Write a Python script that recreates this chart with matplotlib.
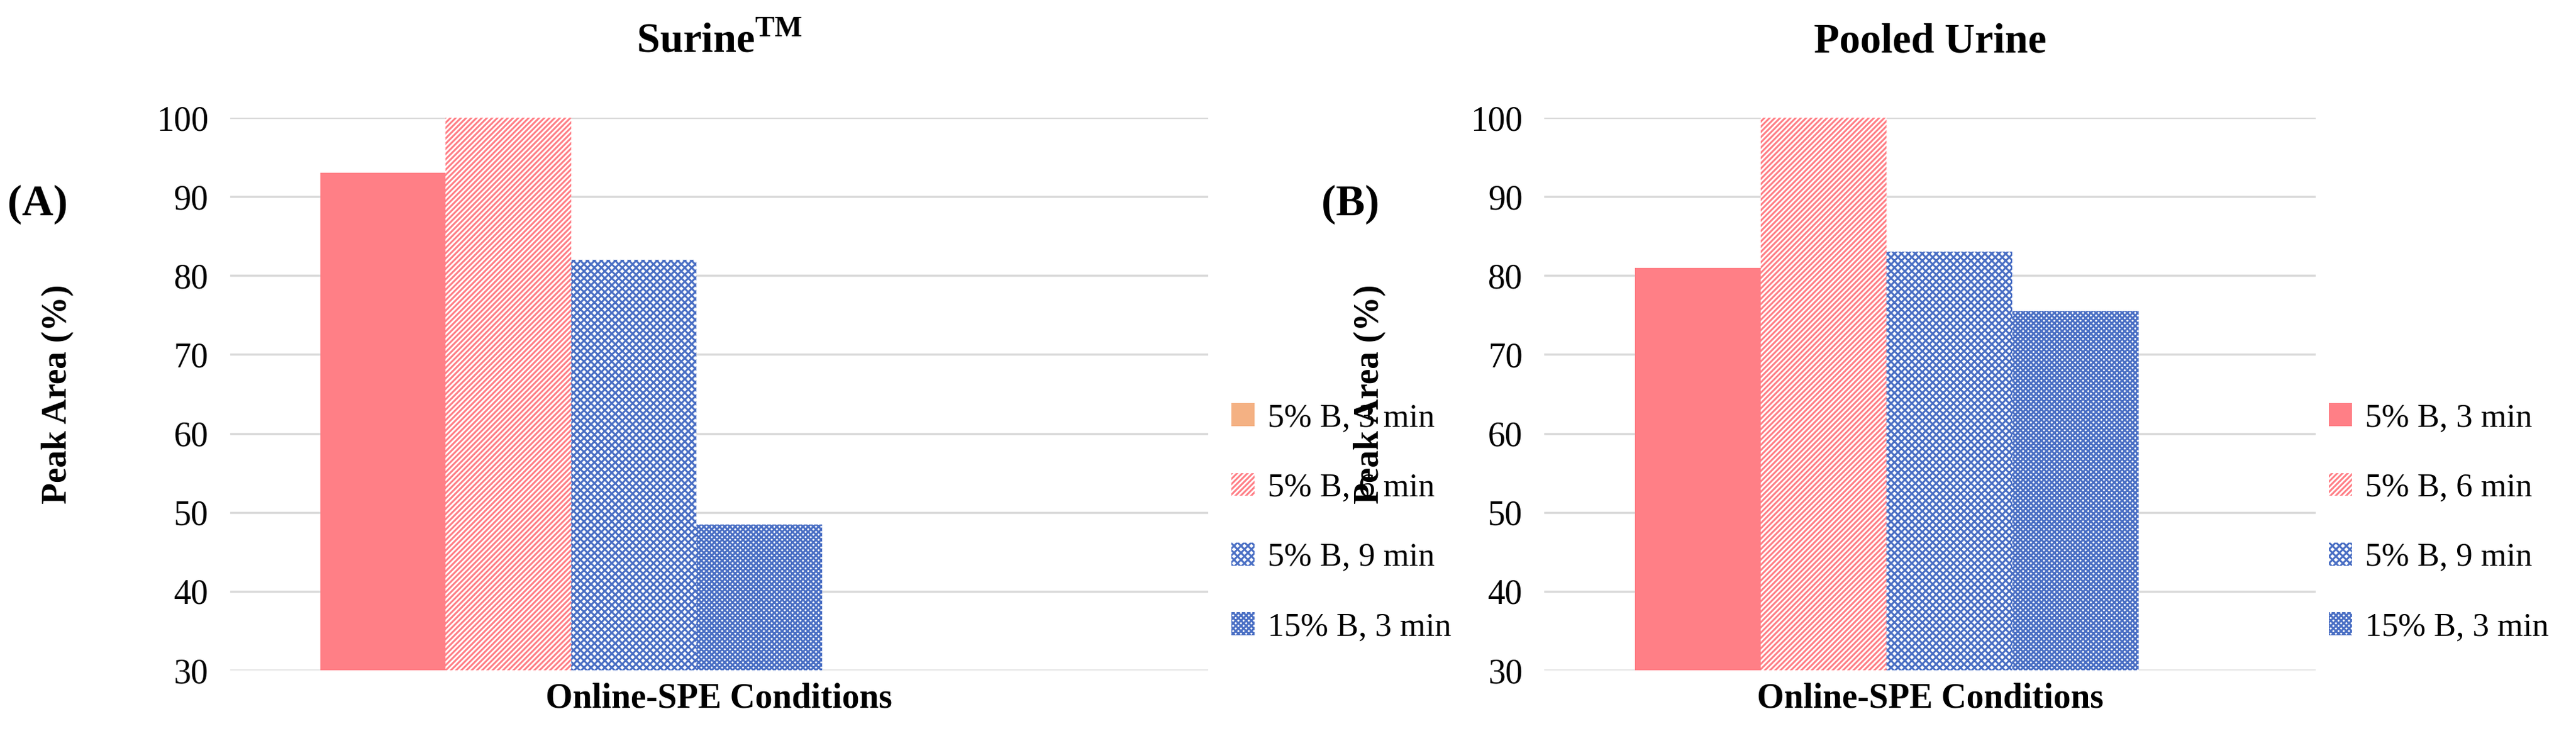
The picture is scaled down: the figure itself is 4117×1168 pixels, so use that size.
import matplotlib
matplotlib.use("Agg")
import matplotlib.pyplot as plt
from matplotlib.patches import Patch

series = ["5% B, 3 min", "5% B, 6 min", "5% B, 9 min", "15% B, 3 min"]
surine = [93, 100, 82, 48.5]
pooled = [81, 100, 83, 75.5]
category = "Online-SPE Conditions"

plt.rcParams['font.family'] = ['Liberation Serif', 'DejaVu Serif']
plt.rcParams['hatch.linewidth'] = 2.2

pink = "#FF7F86"
blue = "#4A6FC4"
styles = [
    dict(facecolor=pink, edgecolor=pink, hatch=None),
    dict(facecolor="white", edgecolor=pink, hatch="////"),
    dict(facecolor="white", edgecolor=blue, hatch="xxx"),
    dict(facecolor="white", edgecolor=blue, hatch="xxxx"),
]

fig = plt.figure(figsize=(41.17, 11.68), dpi=100)
axA = fig.add_axes([0.0893, 0.083, 0.3797, 0.756])
axB = fig.add_axes([0.5995, 0.083, 0.2995, 0.756])

def draw(ax, vals, title, letter, lx, legend_first_color, xr, ylx, legx):
    xs = [-1.5, -0.5, 0.5, 1.5]
    for x, v, st in zip(xs, vals, styles):
        ax.bar(x, v - 30, bottom=30, width=1.0, linewidth=0, **st)
    ax.set_ylim(30, 100)
    ax.set_xlim(-2.72, xr)
    ax.set_yticks(range(30, 101, 10))
    ax.tick_params(axis='y', labelsize=40, length=0, pad=25)
    ax.set_xticks([])
    for s in ax.spines.values():
        s.set_visible(False)
    ax.grid(axis='y', color="#D9D9D9", linewidth=2.5)
    ax.set_axisbelow(True)
    ax.set_ylabel("Peak Area (%)", fontsize=40, fontweight='bold')
    ax.yaxis.set_label_coords(ylx, 0.5)
    ax.set_xlabel(category, fontsize=40, fontweight='bold', labelpad=14)
    ax.set_title(title, fontsize=48, fontweight='bold', pad=75)
    fig.text(lx, 0.72, letter, fontsize=50, fontweight='bold', va='center')
    handles = []
    for i, st in enumerate(styles):
        s = dict(st)
        if i == 0:
            s['facecolor'] = legend_first_color
            s['edgecolor'] = legend_first_color
        handles.append(Patch(linewidth=0, **s))
    fig.legend(handles, series, loc='center left', bbox_to_anchor=(legx, 0.285),
               frameon=False, fontsize=38, labelspacing=1.2, handlelength=0.7,
               handleheight=0.7, handletextpad=0.4, borderaxespad=0, borderpad=0)

draw(axA, surine, "Surine$^{\\mathregular{TM}}$", "(A)", 0.003, "#F4B183", 5.08, -0.16, 0.478)
draw(axB, pooled, "Pooled Urine", "(B)", 0.513, pink, 3.41, -0.205, 0.904)

fig.savefig("out.png", dpi=100)
